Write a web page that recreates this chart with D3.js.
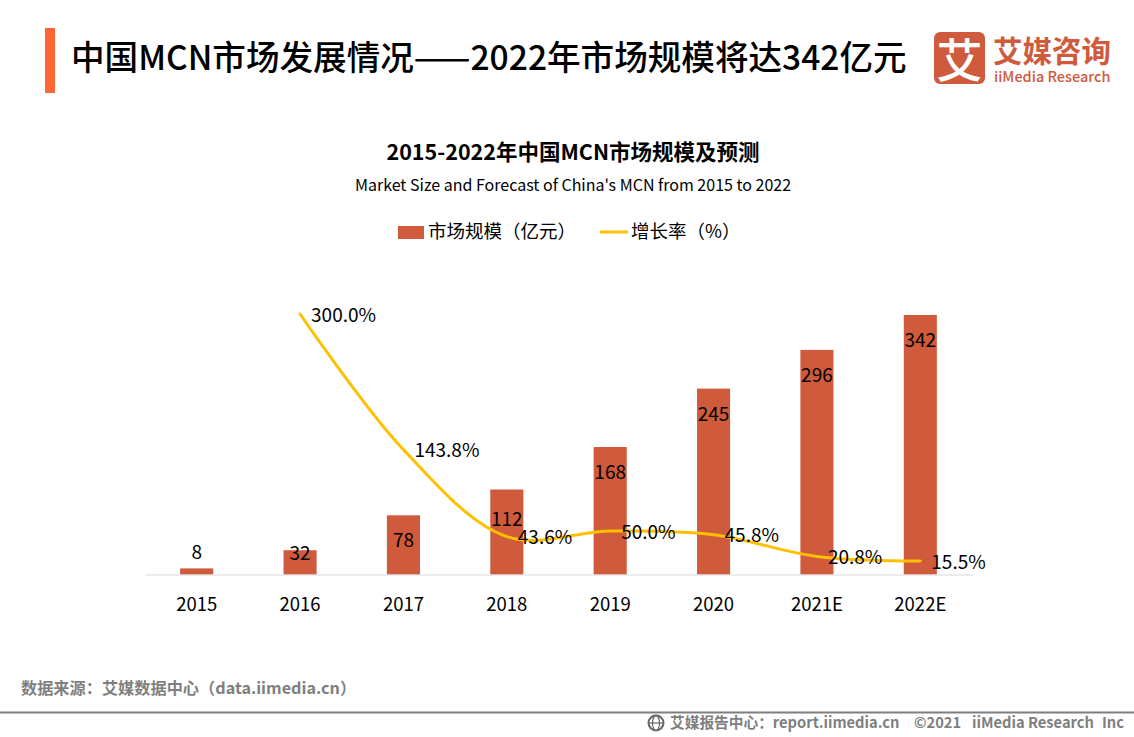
<!DOCTYPE html>
<html>
<head>
<meta charset="utf-8">
<script src="https://cdn.jsdelivr.net/npm/d3@7"></script>
<style>
  html, body { margin: 0; padding: 0; background: #fff; }
  text { font-family: "Noto Sans CJK SC", "Noto Sans", sans-serif; fill: #000; }
</style>
</head>
<body>
<div id="chart"></div>
<script>
var categories = ["2015", "2016", "2017", "2018", "2019", "2020", "2021E", "2022E"];
var marketSize = [8, 32, 78, 112, 168, 245, 296, 342];
var growthYears = ["2016", "2017", "2018", "2019", "2020", "2021E", "2022E"];
var growthRate = [300.0, 143.8, 43.6, 50.0, 45.8, 20.8, 15.5];

var width = 1134;
var height = 737;
var baseline = 574.5;

var barColor = "#cf5a3c";
var lineColor = "#ffc000";

var svg = d3.select("#chart")
  .append("svg")
    .attr("width", width)
    .attr("height", height)
    .style("display", "block");

function label(x, y, str, size, anchor, weight, color) {
  return svg.append("text")
    .attr("x", x)
    .attr("y", y)
    .attr("text-anchor", anchor || "start")
    .attr("dominant-baseline", "central")
    .style("font-size", size + "px")
    .style("font-weight", weight || 400)
    .style("fill", color || "#000")
    .text(str);
}

/*
  HEADER
*/

svg.append("rect")
  .attr("x", 45).attr("y", 28)
  .attr("width", 10).attr("height", 65)
  .attr("fill", "#ff6633");

label(71, 55.5, "中国MCN市场发展情况——2022年市场规模将达342亿元", 33.6, "start", 500);

// logo
svg.append("rect")
  .attr("x", 934).attr("y", 32)
  .attr("width", 51).attr("height", 52)
  .attr("rx", 6)
  .attr("fill", barColor);
label(959.5, 57, "艾", 46, "middle", 500, "#fff");
label(993, 48.5, "艾媒咨询", 29.5, "start", 700, barColor);
label(994, 75, "iiMedia Research", 14.5, "start", 500, barColor);

/*
  TITLES AND LEGEND
*/

label(573, 150.5, "2015-2022年中国MCN市场规模及预测", 21.5, "middle", 700);
label(573, 184, "Market Size and Forecast of China's MCN from 2015 to 2022", 16, "middle");

svg.append("rect")
  .attr("x", 398).attr("y", 226)
  .attr("width", 26).attr("height", 13)
  .attr("fill", barColor);
label(428, 230, "市场规模（亿元）", 18.5, "start");
svg.append("line")
  .attr("x1", 600).attr("x2", 628)
  .attr("y1", 232).attr("y2", 232)
  .attr("stroke", lineColor)
  .attr("stroke-width", 3);
label(631, 230, "增长率（%）", 18.5, "start");

/*
  CHART
*/

var x = d3.scaleBand()
  .domain(categories)
  .range([145, 972])
  .paddingInner(0.68)
  .paddingOuter(0.34);

var y = d3.scaleLinear()
  .domain([0, 342])
  .range([baseline, 315]);

var yRate = d3.scaleLinear()
  .domain([0, 300])
  .range([baseline, 314]);

svg.selectAll(".bar")
  .data(categories)
  .enter()
  .append("rect")
    .attr("class", "bar")
    .attr("x", function(d) { return x(d); })
    .attr("y", function(d, i) { return y(marketSize[i]); })
    .attr("width", x.bandwidth())
    .attr("height", function(d, i) { return baseline - y(marketSize[i]); })
    .attr("fill", barColor);

var xAxis = d3.axisBottom(x).tickSize(0).tickPadding(23);
var axisG = svg.append("g")
  .attr("transform", "translate(0," + baseline + ")")
  .call(xAxis);
axisG.select(".domain").attr("stroke", "#d9d9d9");
axisG.selectAll("text")
  .style("font-size", "18.5px")
  .style("fill", "#000");

var line = d3.line()
  .x(function(d) { return x(d) + x.bandwidth() / 2; })
  .y(function(d, i) { return yRate(growthRate[i]); })
  .curve(d3.curveCatmullRom.alpha(0.5));

svg.append("path")
  .datum(growthYears)
  .attr("d", line)
  .attr("fill", "none")
  .attr("stroke", lineColor)
  .attr("stroke-width", 3)
  .attr("stroke-linecap", "round");

// bar labels, mostly inside the top of the bar
svg.selectAll(".barLabel")
  .data(categories)
  .enter()
  .append("text")
    .attr("class", "barLabel")
    .attr("x", function(d) { return x(d) + x.bandwidth() / 2; })
    .attr("y", function(d, i) {
      if (i === 0) return y(marketSize[i]) - 18;
      if (i === 1) return y(marketSize[i]) + 1;
      if (i === 3) return y(marketSize[i]) + 28;
      return y(marketSize[i]) + 23.5;
    })
    .attr("text-anchor", "middle")
    .attr("dominant-baseline", "central")
    .style("font-size", "19px")
    .text(function(d, i) { return marketSize[i]; });

svg.selectAll(".rateLabel")
  .data(growthYears)
  .enter()
  .append("text")
    .attr("class", "rateLabel")
    .attr("x", function(d) { return x(d) + x.bandwidth() / 2 + 11; })
    .attr("y", function(d, i) { return yRate(growthRate[i]) - 1; })
    .attr("dominant-baseline", "central")
    .style("font-size", "19px")
    .text(function(d, i) { return growthRate[i].toFixed(1) + "%"; });

/*
  FOOTER
*/

label(21, 687, "数据来源：艾媒数据中心（data.iimedia.cn）", 16.2, "start", 700, "#7f7f7f");

svg.append("line")
  .attr("x1", 0).attr("x2", width)
  .attr("y1", 712.5).attr("y2", 712.5)
  .attr("stroke", "#7f7f7f")
  .attr("stroke-width", 2);

// little globe icon
var globe = svg.append("g").attr("transform", "translate(656,723)");
globe.append("circle").attr("r", 7.5).attr("fill", "none").attr("stroke", "#666").attr("stroke-width", 2);
globe.append("ellipse").attr("rx", 3.5).attr("ry", 7.5).attr("fill", "none").attr("stroke", "#666").attr("stroke-width", 1.2);
globe.append("line").attr("x1", -7).attr("x2", 7).attr("stroke", "#666").attr("stroke-width", 1.2);

label(670, 721, "艾媒报告中心：report.iimedia.cn", 14.7, "start", 700, "#7f7f7f");
label(914, 721, "©2021", 14.7, "start", 700, "#7f7f7f");
label(972, 721, "iiMedia Research", 14.7, "start", 700, "#7f7f7f");
label(1102, 721, "Inc", 14.7, "start", 700, "#7f7f7f");
</script>
</body>
</html>
